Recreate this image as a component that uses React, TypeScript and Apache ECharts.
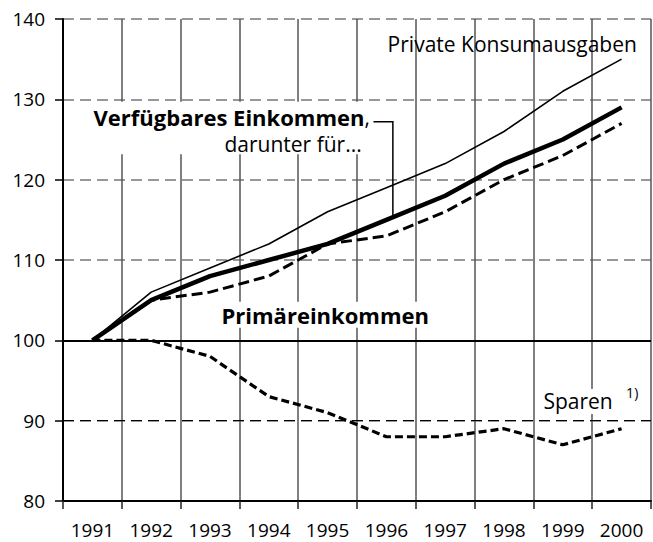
import React, { useEffect, useRef } from "react";
import * as echarts from "echarts";

const years = ["1991", "1992", "1993", "1994", "1995", "1996", "1997", "1998", "1999", "2000"];
const privateKonsum = [100, 106, 109, 112, 116, 119, 122, 126, 131, 135];
const verfuegbar = [100, 105, 108, 110, 112, 115, 118, 122, 125, 129];
const primaer = [100, 105, 106, 108, 112, 113, 116, 120, 123, 127];
const sparen = [100, 100, 98, 93, 91, 88, 88, 89, 87, 89];
const yTicks = [80, 90, 100, 110, 120, 130, 140];

const FONT = "'Open Sans', 'Noto Sans', sans-serif";

export default function App() {
  const ref = useRef<HTMLDivElement>(null);
  useEffect(() => {
    if (!ref.current) return;
    const chart = echarts.init(ref.current, null, { renderer: "svg" });
    const option: any = {
      animation: false,
      textStyle: { fontFamily: FONT, color: "#000" },
      grid: { left: 63, right: 2, top: 19, bottom: 41 },
      xAxis: {
        type: "category",
        data: years,
        boundaryGap: true,
        axisLine: { lineStyle: { color: "#000", width: 2 } },
        axisTick: { show: true, length: 8, lineStyle: { color: "#222", width: 1.5 } },
        axisLabel: { fontSize: 19, color: "#000", margin: 19, fontFamily: FONT },
        splitLine: { show: true, lineStyle: { color: "#555", width: 1.5 } },
      },
      yAxis: {
        type: "value",
        min: yTicks[0],
        max: yTicks[yTicks.length - 1],
        interval: 10,
        axisLine: { show: true, lineStyle: { color: "#000", width: 2 } },
        axisTick: { show: true, length: 8, lineStyle: { color: "#000", width: 1.5 } },
        axisLabel: { fontSize: 19, color: "#000", margin: 18, fontFamily: FONT },
        splitLine: { show: true, lineStyle: { color: "#777", width: 1.5, type: [11, 6] } },
      },
      series: [
        {
          name: "Private Konsumausgaben",
          type: "line",
          data: privateKonsum,
          showSymbol: false,
          lineStyle: { color: "#000", width: 1.6 },
          z: 5,
          markLine: {
            silent: true,
            symbol: "none",
            label: { show: false },
            data: [
              { yAxis: 100, lineStyle: { color: "#000", width: 1.8, type: "solid" } },
              { yAxis: 90, lineStyle: { color: "#000", width: 1.2, type: [11, 6] } },
            ],
          },
        },
        {
          name: "Verfügbares Einkommen",
          type: "line",
          data: verfuegbar,
          showSymbol: false,
          lineStyle: { color: "#000", width: 4.5 },
          z: 5,
        },
        {
          name: "Primäreinkommen",
          type: "line",
          data: primaer,
          showSymbol: false,
          lineStyle: { color: "#000", width: 3, type: [11, 5] },
          z: 5,
        },
        {
          name: "Sparen",
          type: "line",
          data: sparen,
          showSymbol: false,
          lineStyle: { color: "#000", width: 3.2, type: [8, 4] },
          z: 5,
        },
      ],
    };
    chart.setOption(option);

    const p0 = chart.convertToPixel({ gridIndex: 0 }, [0, 100]) as number[];
    const p1 = chart.convertToPixel({ gridIndex: 0 }, [1, 110]) as number[];
    const px = (i: number, v: number) => [
      p0[0] + (p1[0] - p0[0]) * i,
      p0[1] + ((p1[1] - p0[1]) * (v - 100)) / 10,
    ];

    const a1 = px(9.26, 136.9);
    const vb = px(4.72, 127.85);
    const dr = px(4.58, 124.4);
    const boxTL = px(-0.22, 129.7);
    const boxBR = px(4.67, 123.15);
    const l1 = px(4.78, 127.2);
    const l2 = px(5.11, 127.2);
    const l3 = px(5.11, 115.6);
    const pr = px(3.96, 103.2);
    const sp = px(8.9, 92.4);
    const sup = px(9.18, 93.45);

    chart.setOption({
      graphic: [
        {
          type: "rect",
          z: 50,
          shape: { x: boxTL[0], y: boxTL[1], width: boxBR[0] - boxTL[0], height: boxBR[1] - boxTL[1] },
          style: { fill: "#fff" },
        },
        {
          type: "text",
          z: 60,
          x: a1[0],
          y: a1[1],
          style: {
            text: "Private Konsumausgaben",
            fontFamily: FONT,
            fontSize: 21,
            fill: "#000",
            align: "right",
            verticalAlign: "middle",
          },
        },
        {
          type: "text",
          z: 60,
          x: vb[0],
          y: vb[1],
          style: {
            text: "{b|Verfügbares Einkommen}{n|,}",
            rich: {
              b: { fontFamily: FONT, fontSize: 22, fontWeight: "bold", fill: "#000" },
              n: { fontFamily: FONT, fontSize: 21, fill: "#000" },
            },
            align: "right",
            verticalAlign: "middle",
          },
        },
        {
          type: "text",
          z: 60,
          x: dr[0],
          y: dr[1],
          style: {
            text: "darunter für...",
            fontFamily: FONT,
            fontSize: 21,
            fill: "#000",
            align: "right",
            verticalAlign: "middle",
          },
        },
        {
          type: "polyline",
          z: 60,
          shape: { points: [l1, l2, l3] },
          style: { stroke: "#000", lineWidth: 1.5, fill: null },
        },
        {
          type: "text",
          z: 60,
          x: pr[0],
          y: pr[1],
          style: {
            text: "Primäreinkommen",
            fontFamily: FONT,
            fontSize: 22,
            fontWeight: "bold",
            fill: "#000",
            align: "center",
            verticalAlign: "middle",
            backgroundColor: "#fff",
            padding: [2, 4],
          },
        },
        {
          type: "text",
          z: 60,
          x: sp[0],
          y: sp[1],
          style: {
            text: "Sparen",
            fontFamily: FONT,
            fontSize: 21,
            fill: "#000",
            align: "right",
            verticalAlign: "middle",
            backgroundColor: "#fff",
            padding: [2, 3],
          },
        },
        {
          type: "text",
          z: 60,
          x: sup[0],
          y: sup[1],
          style: {
            text: "1)",
            fontFamily: FONT,
            fontSize: 14,
            fill: "#000",
            align: "center",
            verticalAlign: "middle",
          },
        },
      ],
    });

    return () => chart.dispose();
  }, []);
  return (
    <div
      ref={ref}
      style={{ position: "fixed", left: 0, top: 0, width: 653, height: 542, background: "#fff" }}
    />
  );
}
